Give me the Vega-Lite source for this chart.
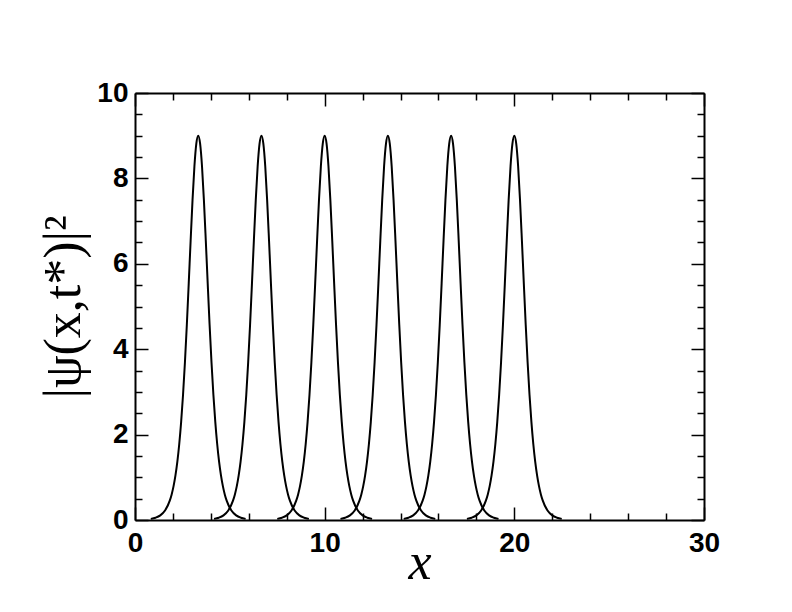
{
  "$schema": "https://vega.github.io/schema/vega-lite/v6.json",
  "autosize": "none",
  "width": 569,
  "height": 427,
  "padding": {"left": 135, "top": 93, "right": 88, "bottom": 92},
  "background": "white",
  "config": {
    "view": {"stroke": null},
    "axis": {
      "grid": false,
      "domainColor": "black",
      "domainWidth": 2,
      "tickColor": "black",
      "tickWidth": 1.5,
      "labelFont": "Liberation Sans",
      "labelFontWeight": "bold",
      "labelFontSize": 28,
      "labelColor": "black",
      "labelFlush": false,
      "labelOverlap": false,
      "labelBound": false,
      "titleColor": "black",
      "titleFont": "Liberation Serif",
      "titleFontWeight": "normal"
    }
  },
  "data": {
    "values": [
      {"p": "A", "x": 0.833, "y": 0.026}, {"p": "A", "x": 1.083, "y": 0.053}, {"p": "A", "x": 1.333, "y": 0.108}, {"p": "A", "x": 1.583, "y": 0.222}, {"p": "A", "x": 1.833, "y": 0.453}, {"p": "A", "x": 1.933, "y": 0.600}, {"p": "A", "x": 2.033, "y": 0.793}, {"p": "A", "x": 2.133, "y": 1.044}, {"p": "A", "x": 2.233, "y": 1.367}, {"p": "A", "x": 2.333, "y": 1.780}, {"p": "A", "x": 2.433, "y": 2.297}, {"p": "A", "x": 2.533, "y": 2.933}, {"p": "A", "x": 2.633, "y": 3.694}, {"p": "A", "x": 2.733, "y": 4.573}, {"p": "A", "x": 2.833, "y": 5.541}, {"p": "A", "x": 2.933, "y": 6.541}, {"p": "A", "x": 3.033, "y": 7.491}, {"p": "A", "x": 3.133, "y": 8.284}, {"p": "A", "x": 3.233, "y": 8.813}, {"p": "A", "x": 3.333, "y": 9}, {"p": "A", "x": 3.433, "y": 8.813}, {"p": "A", "x": 3.533, "y": 8.284}, {"p": "A", "x": 3.633, "y": 7.491}, {"p": "A", "x": 3.733, "y": 6.541}, {"p": "A", "x": 3.833, "y": 5.541}, {"p": "A", "x": 3.933, "y": 4.573}, {"p": "A", "x": 4.033, "y": 3.694}, {"p": "A", "x": 4.133, "y": 2.933}, {"p": "A", "x": 4.233, "y": 2.297}, {"p": "A", "x": 4.333, "y": 1.780}, {"p": "A", "x": 4.433, "y": 1.367}, {"p": "A", "x": 4.533, "y": 1.044}, {"p": "A", "x": 4.633, "y": 0.793}, {"p": "A", "x": 4.733, "y": 0.600}, {"p": "A", "x": 4.833, "y": 0.453}, {"p": "A", "x": 5.083, "y": 0.222}, {"p": "A", "x": 5.333, "y": 0.108}, {"p": "A", "x": 5.583, "y": 0.053}, {"p": "A", "x": 5.833, "y": 0.026},
      {"p": "B", "x": 4.167, "y": 0.026}, {"p": "B", "x": 4.417, "y": 0.053}, {"p": "B", "x": 4.667, "y": 0.108}, {"p": "B", "x": 4.917, "y": 0.222}, {"p": "B", "x": 5.167, "y": 0.453}, {"p": "B", "x": 5.267, "y": 0.600}, {"p": "B", "x": 5.367, "y": 0.793}, {"p": "B", "x": 5.467, "y": 1.044}, {"p": "B", "x": 5.567, "y": 1.367}, {"p": "B", "x": 5.667, "y": 1.780}, {"p": "B", "x": 5.767, "y": 2.297}, {"p": "B", "x": 5.867, "y": 2.933}, {"p": "B", "x": 5.967, "y": 3.694}, {"p": "B", "x": 6.067, "y": 4.573}, {"p": "B", "x": 6.167, "y": 5.541}, {"p": "B", "x": 6.267, "y": 6.541}, {"p": "B", "x": 6.367, "y": 7.491}, {"p": "B", "x": 6.467, "y": 8.284}, {"p": "B", "x": 6.567, "y": 8.813}, {"p": "B", "x": 6.667, "y": 9}, {"p": "B", "x": 6.767, "y": 8.813}, {"p": "B", "x": 6.867, "y": 8.284}, {"p": "B", "x": 6.967, "y": 7.491}, {"p": "B", "x": 7.067, "y": 6.541}, {"p": "B", "x": 7.167, "y": 5.541}, {"p": "B", "x": 7.267, "y": 4.573}, {"p": "B", "x": 7.367, "y": 3.694}, {"p": "B", "x": 7.467, "y": 2.933}, {"p": "B", "x": 7.567, "y": 2.297}, {"p": "B", "x": 7.667, "y": 1.780}, {"p": "B", "x": 7.767, "y": 1.367}, {"p": "B", "x": 7.867, "y": 1.044}, {"p": "B", "x": 7.967, "y": 0.793}, {"p": "B", "x": 8.067, "y": 0.600}, {"p": "B", "x": 8.167, "y": 0.453}, {"p": "B", "x": 8.417, "y": 0.222}, {"p": "B", "x": 8.667, "y": 0.108}, {"p": "B", "x": 8.917, "y": 0.053}, {"p": "B", "x": 9.167, "y": 0.026},
      {"p": "C", "x": 7.5, "y": 0.026}, {"p": "C", "x": 7.75, "y": 0.053}, {"p": "C", "x": 8.0, "y": 0.108}, {"p": "C", "x": 8.25, "y": 0.222}, {"p": "C", "x": 8.5, "y": 0.453}, {"p": "C", "x": 8.6, "y": 0.600}, {"p": "C", "x": 8.7, "y": 0.793}, {"p": "C", "x": 8.8, "y": 1.044}, {"p": "C", "x": 8.9, "y": 1.367}, {"p": "C", "x": 9.0, "y": 1.780}, {"p": "C", "x": 9.1, "y": 2.297}, {"p": "C", "x": 9.2, "y": 2.933}, {"p": "C", "x": 9.3, "y": 3.694}, {"p": "C", "x": 9.4, "y": 4.573}, {"p": "C", "x": 9.5, "y": 5.541}, {"p": "C", "x": 9.6, "y": 6.541}, {"p": "C", "x": 9.7, "y": 7.491}, {"p": "C", "x": 9.8, "y": 8.284}, {"p": "C", "x": 9.9, "y": 8.813}, {"p": "C", "x": 10.0, "y": 9}, {"p": "C", "x": 10.1, "y": 8.813}, {"p": "C", "x": 10.2, "y": 8.284}, {"p": "C", "x": 10.3, "y": 7.491}, {"p": "C", "x": 10.4, "y": 6.541}, {"p": "C", "x": 10.5, "y": 5.541}, {"p": "C", "x": 10.6, "y": 4.573}, {"p": "C", "x": 10.7, "y": 3.694}, {"p": "C", "x": 10.8, "y": 2.933}, {"p": "C", "x": 10.9, "y": 2.297}, {"p": "C", "x": 11.0, "y": 1.780}, {"p": "C", "x": 11.1, "y": 1.367}, {"p": "C", "x": 11.2, "y": 1.044}, {"p": "C", "x": 11.3, "y": 0.793}, {"p": "C", "x": 11.4, "y": 0.600}, {"p": "C", "x": 11.5, "y": 0.453}, {"p": "C", "x": 11.75, "y": 0.222}, {"p": "C", "x": 12.0, "y": 0.108}, {"p": "C", "x": 12.25, "y": 0.053}, {"p": "C", "x": 12.5, "y": 0.026},
      {"p": "D", "x": 10.833, "y": 0.026}, {"p": "D", "x": 11.083, "y": 0.053}, {"p": "D", "x": 11.333, "y": 0.108}, {"p": "D", "x": 11.583, "y": 0.222}, {"p": "D", "x": 11.833, "y": 0.453}, {"p": "D", "x": 11.933, "y": 0.600}, {"p": "D", "x": 12.033, "y": 0.793}, {"p": "D", "x": 12.133, "y": 1.044}, {"p": "D", "x": 12.233, "y": 1.367}, {"p": "D", "x": 12.333, "y": 1.780}, {"p": "D", "x": 12.433, "y": 2.297}, {"p": "D", "x": 12.533, "y": 2.933}, {"p": "D", "x": 12.633, "y": 3.694}, {"p": "D", "x": 12.733, "y": 4.573}, {"p": "D", "x": 12.833, "y": 5.541}, {"p": "D", "x": 12.933, "y": 6.541}, {"p": "D", "x": 13.033, "y": 7.491}, {"p": "D", "x": 13.133, "y": 8.284}, {"p": "D", "x": 13.233, "y": 8.813}, {"p": "D", "x": 13.333, "y": 9}, {"p": "D", "x": 13.433, "y": 8.813}, {"p": "D", "x": 13.533, "y": 8.284}, {"p": "D", "x": 13.633, "y": 7.491}, {"p": "D", "x": 13.733, "y": 6.541}, {"p": "D", "x": 13.833, "y": 5.541}, {"p": "D", "x": 13.933, "y": 4.573}, {"p": "D", "x": 14.033, "y": 3.694}, {"p": "D", "x": 14.133, "y": 2.933}, {"p": "D", "x": 14.233, "y": 2.297}, {"p": "D", "x": 14.333, "y": 1.780}, {"p": "D", "x": 14.433, "y": 1.367}, {"p": "D", "x": 14.533, "y": 1.044}, {"p": "D", "x": 14.633, "y": 0.793}, {"p": "D", "x": 14.733, "y": 0.600}, {"p": "D", "x": 14.833, "y": 0.453}, {"p": "D", "x": 15.083, "y": 0.222}, {"p": "D", "x": 15.333, "y": 0.108}, {"p": "D", "x": 15.583, "y": 0.053}, {"p": "D", "x": 15.833, "y": 0.026},
      {"p": "E", "x": 14.167, "y": 0.026}, {"p": "E", "x": 14.417, "y": 0.053}, {"p": "E", "x": 14.667, "y": 0.108}, {"p": "E", "x": 14.917, "y": 0.222}, {"p": "E", "x": 15.167, "y": 0.453}, {"p": "E", "x": 15.267, "y": 0.600}, {"p": "E", "x": 15.367, "y": 0.793}, {"p": "E", "x": 15.467, "y": 1.044}, {"p": "E", "x": 15.567, "y": 1.367}, {"p": "E", "x": 15.667, "y": 1.780}, {"p": "E", "x": 15.767, "y": 2.297}, {"p": "E", "x": 15.867, "y": 2.933}, {"p": "E", "x": 15.967, "y": 3.694}, {"p": "E", "x": 16.067, "y": 4.573}, {"p": "E", "x": 16.167, "y": 5.541}, {"p": "E", "x": 16.267, "y": 6.541}, {"p": "E", "x": 16.367, "y": 7.491}, {"p": "E", "x": 16.467, "y": 8.284}, {"p": "E", "x": 16.567, "y": 8.813}, {"p": "E", "x": 16.667, "y": 9}, {"p": "E", "x": 16.767, "y": 8.813}, {"p": "E", "x": 16.867, "y": 8.284}, {"p": "E", "x": 16.967, "y": 7.491}, {"p": "E", "x": 17.067, "y": 6.541}, {"p": "E", "x": 17.167, "y": 5.541}, {"p": "E", "x": 17.267, "y": 4.573}, {"p": "E", "x": 17.367, "y": 3.694}, {"p": "E", "x": 17.467, "y": 2.933}, {"p": "E", "x": 17.567, "y": 2.297}, {"p": "E", "x": 17.667, "y": 1.780}, {"p": "E", "x": 17.767, "y": 1.367}, {"p": "E", "x": 17.867, "y": 1.044}, {"p": "E", "x": 17.967, "y": 0.793}, {"p": "E", "x": 18.067, "y": 0.600}, {"p": "E", "x": 18.167, "y": 0.453}, {"p": "E", "x": 18.417, "y": 0.222}, {"p": "E", "x": 18.667, "y": 0.108}, {"p": "E", "x": 18.917, "y": 0.053}, {"p": "E", "x": 19.167, "y": 0.026},
      {"p": "F", "x": 17.5, "y": 0.026}, {"p": "F", "x": 17.75, "y": 0.053}, {"p": "F", "x": 18.0, "y": 0.108}, {"p": "F", "x": 18.25, "y": 0.222}, {"p": "F", "x": 18.5, "y": 0.453}, {"p": "F", "x": 18.6, "y": 0.600}, {"p": "F", "x": 18.7, "y": 0.793}, {"p": "F", "x": 18.8, "y": 1.044}, {"p": "F", "x": 18.9, "y": 1.367}, {"p": "F", "x": 19.0, "y": 1.780}, {"p": "F", "x": 19.1, "y": 2.297}, {"p": "F", "x": 19.2, "y": 2.933}, {"p": "F", "x": 19.3, "y": 3.694}, {"p": "F", "x": 19.4, "y": 4.573}, {"p": "F", "x": 19.5, "y": 5.541}, {"p": "F", "x": 19.6, "y": 6.541}, {"p": "F", "x": 19.7, "y": 7.491}, {"p": "F", "x": 19.8, "y": 8.284}, {"p": "F", "x": 19.9, "y": 8.813}, {"p": "F", "x": 20.0, "y": 9}, {"p": "F", "x": 20.1, "y": 8.813}, {"p": "F", "x": 20.2, "y": 8.284}, {"p": "F", "x": 20.3, "y": 7.491}, {"p": "F", "x": 20.4, "y": 6.541}, {"p": "F", "x": 20.5, "y": 5.541}, {"p": "F", "x": 20.6, "y": 4.573}, {"p": "F", "x": 20.7, "y": 3.694}, {"p": "F", "x": 20.8, "y": 2.933}, {"p": "F", "x": 20.9, "y": 2.297}, {"p": "F", "x": 21.0, "y": 1.780}, {"p": "F", "x": 21.1, "y": 1.367}, {"p": "F", "x": 21.2, "y": 1.044}, {"p": "F", "x": 21.3, "y": 0.793}, {"p": "F", "x": 21.4, "y": 0.600}, {"p": "F", "x": 21.5, "y": 0.453}, {"p": "F", "x": 21.75, "y": 0.222}, {"p": "F", "x": 22.0, "y": 0.108}, {"p": "F", "x": 22.25, "y": 0.053}, {"p": "F", "x": 22.5, "y": 0.026}
    ]
  },
  "layer": [
    {
      "mark": {"type": "line", "color": "black", "strokeWidth": 2, "interpolate": "monotone"},
      "encoding": {
        "x": {
          "field": "x", "type": "quantitative",
          "scale": {"domain": [0, 30], "nice": false, "zero": false},
          "axis": {
            "orient": "bottom",
            "values": [0, 2, 4, 6, 8, 10, 12, 14, 16, 18, 20, 22, 24, 26, 28, 30],
            "format": "~g",
            "labelExpr": "datum.value % 10 === 0 ? datum.label : ''",
            "labelFontSize": 28,
            "tickSize": {"condition": {"test": "datum.value % 10 === 0", "value": -13}, "value": -7},
            "labelPadding": 22,
            "title": "x",
            "titleFontStyle": "italic",
            "titleFontSize": 52,
            "titlePadding": -26
          }
        },
        "y": {
          "field": "y", "type": "quantitative",
          "scale": {"domain": [0, 10], "nice": false},
          "axis": {
            "orient": "left",
            "values": [0, 0.5, 1, 1.5, 2, 2.5, 3, 3.5, 4, 4.5, 5, 5.5, 6, 6.5, 7, 7.5, 8, 8.5, 9, 9.5, 10],
            "format": "~g",
            "labelExpr": "datum.value % 2 === 0 ? datum.label : ''",
            "labelFontSize": 28,
            "tickSize": {"condition": {"test": "datum.value % 2 === 0", "value": -13}, "value": -7},
            "labelPadding": 20,
            "title": "|ψ(x,t*)|²",
            "titleFontSize": 52,
            "titlePadding": 6
          }
        },
        "detail": {"field": "p", "type": "nominal"}
      }
    },
    {
      "mark": {"type": "line", "opacity": 0},
      "encoding": {
        "x": {
          "field": "x", "type": "quantitative",
          "axis": {
            "orient": "top",
            "values": [0, 2, 4, 6, 8, 10, 12, 14, 16, 18, 20, 22, 24, 26, 28, 30],
            "labels": false,
            "tickSize": {"condition": {"test": "datum.value % 10 === 0", "value": -13}, "value": -7},
            "title": null
          }
        },
        "y": {
          "field": "y", "type": "quantitative",
          "axis": {
            "orient": "right",
            "values": [0, 0.5, 1, 1.5, 2, 2.5, 3, 3.5, 4, 4.5, 5, 5.5, 6, 6.5, 7, 7.5, 8, 8.5, 9, 9.5, 10],
            "labels": false,
            "tickSize": {"condition": {"test": "datum.value % 2 === 0", "value": -13}, "value": -7},
            "title": null
          }
        },
        "detail": {"field": "p", "type": "nominal"}
      }
    }
  ],
  "resolve": {"axis": {"x": "independent", "y": "independent"}}
}
